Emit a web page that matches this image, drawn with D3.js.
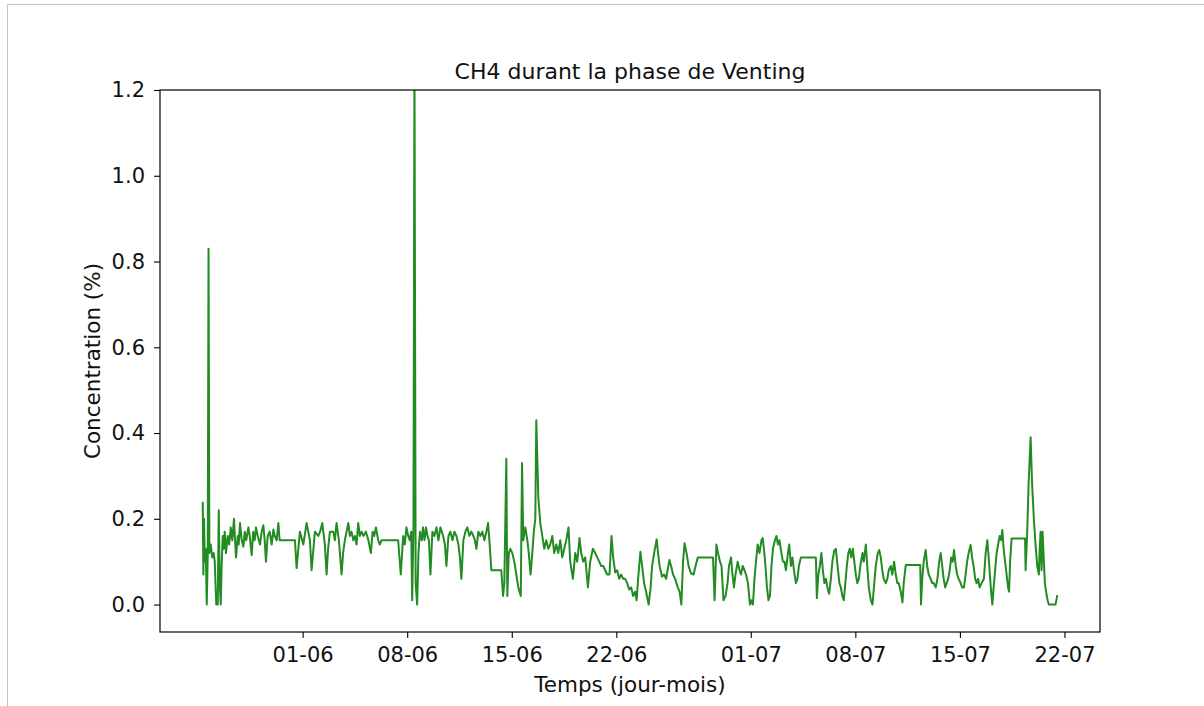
<!DOCTYPE html>
<html>
<head>
<meta charset="utf-8">
<script src="https://cdn.jsdelivr.net/npm/d3@7"></script>
<style>
  body { margin: 0; background: #fff; }
  text { font-family: "DejaVu Sans", sans-serif; fill: #111; }
</style>
</head>
<body>
<svg id="chart" width="1204" height="706"></svg>
<script>
// relevés CH4 (jour/mois heure) et concentration (%)
var times = [
  "25/05 07:30","25/05 08:30","25/05 09:40","25/05 10:45","25/05 12:20","25/05 14:00","25/05 15:35","25/05 16:50","25/05 18:10","25/05 20:25","25/05 22:50",
  "26/05 01:15","26/05 02:50","26/05 05:15","26/05 07:40","26/05 09:15","26/05 10:50","26/05 12:25","26/05 14:05","26/05 15:40","26/05 17:15","26/05 18:50","26/05 20:55","26/05 23:40",
  "27/05 02:05","27/05 04:30","27/05 06:55","27/05 09:45","27/05 11:25","27/05 13:00","27/05 15:45","27/05 17:20","27/05 19:25","27/05 22:10",
  "28/05 00:50","28/05 03:00","28/05 05:20","28/05 08:55","28/05 11:00","28/05 14:10","28/05 16:35","28/05 19:00","28/05 21:05","28/05 23:50",
  "29/05 03:30","29/05 06:15","29/05 08:55","29/05 11:00","29/05 13:05","29/05 15:50","29/05 19:05","29/05 22:15",
  "30/05 01:00","30/05 03:05","30/05 06:15","30/05 09:00","30/05 11:05",
  "31/05 11:40","31/05 14:20","31/05 19:40",
  "01/06 01:05","01/06 06:25","01/06 11:40","01/06 14:25","01/06 19:45",
  "02/06 01:10","02/06 04:05","02/06 07:35","02/06 11:45","02/06 14:30","02/06 16:55","02/06 19:50",
  "03/06 01:15","03/06 03:50","03/06 06:30","03/06 10:15","03/06 14:35","03/06 17:00","03/06 19:50",
  "04/06 01:20","04/06 03:55","04/06 06:35","04/06 09:20","04/06 11:55","04/06 14:40","04/06 17:20","04/06 19:55","04/06 22:40",
  "05/06 01:40","05/06 05:40","05/06 09:40","05/06 13:40","05/06 16:25","05/06 19:00","05/06 21:45",
  "06/06 01:25","06/06 04:00","06/06 06:45",
  "07/06 09:30","07/06 13:40","07/06 17:35","07/06 20:05","07/06 22:50",
  "08/06 01:35","08/06 04:10","08/06 06:30","08/06 08:00","08/06 10:05","08/06 11:40","08/06 13:35","08/06 16:00","08/06 18:05","08/06 20:30","08/06 23:30",
  "09/06 01:20","09/06 03:45","09/06 06:10","09/06 08:30","09/06 10:55","09/06 13:20","09/06 16:30","09/06 19:45","09/06 23:00",
  "10/06 02:10","10/06 05:25","10/06 09:45","10/06 12:35","10/06 15:00","10/06 18:15","10/06 21:25",
  "11/06 00:40","11/06 03:50","11/06 07:05","11/06 10:15","11/06 12:40","11/06 15:05","11/06 18:15","11/06 21:30",
  "12/06 00:40","12/06 03:55","12/06 07:05","12/06 10:20","12/06 12:45","12/06 15:10","12/06 18:20","12/06 21:35",
  "13/06 00:45","13/06 04:00","13/06 07:10","13/06 09:55","13/06 12:00","13/06 15:15",
  "14/06 07:15","14/06 10:00","14/06 12:05","14/06 15:15","14/06 16:50","14/06 19:15","14/06 21:40",
  "15/06 00:55","15/06 04:05","15/06 07:20","15/06 10:30","15/06 14:30","15/06 16:30","15/06 18:30","15/06 21:45",
  "16/06 01:00","16/06 03:20","16/06 06:15","16/06 09:00","16/06 11:25","16/06 13:50","16/06 15:25","16/06 18:40","16/06 21:50",
  "17/06 01:00","17/06 04:15","17/06 07:25","17/06 10:40","17/06 13:50","17/06 17:05","17/06 20:15","17/06 23:30",
  "18/06 02:40","18/06 05:55","18/06 09:05","18/06 12:20","18/06 15:30","18/06 19:10","18/06 21:55",
  "19/06 02:15","19/06 06:00","19/06 09:10","19/06 12:50","19/06 15:35","19/06 18:50","19/06 22:00",
  "20/06 02:20","20/06 06:00","20/06 10:20","20/06 14:05","20/06 17:15","20/06 20:30","20/06 23:40",
  "21/06 02:55","21/06 06:05","21/06 09:20","21/06 13:00","21/06 16:15","21/06 18:55","21/06 22:10",
  "22/06 01:20","22/06 04:35","22/06 07:45","22/06 11:00","22/06 14:10","22/06 17:25","22/06 20:35","22/06 23:50",
  "23/06 03:00","23/06 06:15","23/06 08:40","23/06 11:00","23/06 14:40","23/06 17:25","23/06 20:35","23/06 23:50",
  "24/06 03:55","24/06 07:05","24/06 09:30","24/06 12:45","24/06 16:45","24/06 19:05","24/06 21:30",
  "25/06 01:30","25/06 04:45","25/06 08:00","25/06 13:15","25/06 16:00","25/06 19:10","25/06 22:25",
  "26/06 02:45","26/06 05:35","26/06 08:30","26/06 11:10","26/06 13:35","26/06 16:50","26/06 20:05","26/06 23:55",
  "27/06 04:05","27/06 07:15","27/06 10:50",
  "28/06 11:20","28/06 13:50","28/06 16:45","28/06 19:25","28/06 22:35",
  "29/06 01:00","29/06 04:10","29/06 07:25","29/06 10:40","29/06 13:00","29/06 16:15","29/06 18:35","29/06 21:00","29/06 23:25",
  "30/06 03:00","30/06 05:55","30/06 08:20","30/06 11:00","30/06 13:55","30/06 16:20","30/06 19:30","30/06 22:40",
  "01/07 01:05","01/07 03:30","01/07 05:55","01/07 08:20","01/07 11:05","01/07 14:00","01/07 17:10","01/07 19:10","01/07 21:10","01/07 23:35",
  "02/07 02:00","02/07 04:25","02/07 06:50","02/07 09:15","02/07 11:35","02/07 14:50","02/07 17:15","02/07 19:35","02/07 22:00",
  "03/07 01:15","03/07 03:40","03/07 06:05","03/07 08:30","03/07 11:40","03/07 13:45","03/07 16:30","03/07 18:55","03/07 21:20",
  "04/07 00:30","04/07 02:55","04/07 05:20","04/07 08:30",
  "05/07 08:35","05/07 10:10","05/07 12:35","05/07 15:00","05/07 17:25","05/07 19:50","05/07 22:15",
  "06/07 00:40","06/07 03:00","06/07 05:55","06/07 08:40","06/07 11:05","06/07 14:00","06/07 16:40","06/07 19:25","06/07 22:20",
  "07/07 00:40","07/07 03:05","07/07 05:30","07/07 07:55","07/07 10:20","07/07 12:40","07/07 15:05","07/07 17:30","07/07 19:55","07/07 22:20",
  "08/07 00:45","08/07 03:10","08/07 05:35","08/07 08:00","08/07 11:30","08/07 13:35","08/07 16:50","08/07 19:10","08/07 21:35",
  "09/07 00:50","09/07 03:30","09/07 06:25","09/07 08:50","09/07 12:00","09/07 14:25","09/07 16:50","09/07 19:15","09/07 21:35",
  "10/07 00:55","10/07 03:20","10/07 05:40","10/07 08:55","10/07 11:20","10/07 14:15","10/07 16:55","10/07 19:20","10/07 21:40",
  "11/07 01:00","11/07 03:40","11/07 05:45","11/07 09:00",
  "12/07 08:15","12/07 09:30","12/07 11:25","12/07 13:50","12/07 17:00","12/07 19:25","12/07 21:50",
  "13/07 01:05","13/07 03:30","13/07 05:55","13/07 09:10","13/07 11:50","13/07 14:40","13/07 17:05","13/07 19:30","13/07 21:55",
  "14/07 00:20","14/07 02:45","14/07 05:10","14/07 07:35","14/07 10:00","14/07 12:25","14/07 14:30","14/07 17:15","14/07 19:35","14/07 22:00",
  "15/07 01:10","15/07 03:35","15/07 06:30","15/07 09:10","15/07 11:35","15/07 14:00","15/07 17:10","15/07 19:35","15/07 22:00",
  "16/07 00:30","16/07 02:55","16/07 05:20","16/07 07:40","16/07 10:55","16/07 14:35","16/07 17:20","16/07 20:05","16/07 22:10",
  "17/07 00:35","17/07 02:10","17/07 04:05","17/07 06:10","17/07 08:35","17/07 11:00","17/07 13:25","17/07 15:50","17/07 18:15","17/07 20:10","17/07 22:15",
  "18/07 00:35","18/07 03:00","18/07 05:25","18/07 07:00","18/07 08:40","18/07 11:00",
  "19/07 08:40","19/07 09:30","19/07 11:55","19/07 14:20","19/07 17:35","19/07 20:00","19/07 22:55",
  "20/07 01:30","20/07 04:15","20/07 06:50","20/07 07:55","20/07 09:35","20/07 11:10","20/07 12:45","20/07 14:55","20/07 16:30","20/07 18:25","20/07 20:50","20/07 22:55",
  "21/07 09:40","21/07 12:25"
];

var ch4 = [
  0.24,0.07,0.20,0.10,0.13,0.00,0.12,0.83,0.12,0.14,0.11,
  0.12,0.10,0.00,0.00,0.22,0.05,0.00,0.10,0.16,0.13,0.17,0.12,0.16,
  0.14,0.18,0.15,0.20,0.15,0.11,0.16,0.14,0.19,0.15,
  0.135,0.17,0.15,0.18,0.16,0.115,0.17,0.15,0.18,0.16,
  0.14,0.17,0.185,0.15,0.10,0.16,0.17,0.14,
  0.175,0.16,0.15,0.19,0.15,
  0.15,0.085,0.17,
  0.14,0.19,0.15,0.08,0.17,
  0.16,0.17,0.19,0.14,0.07,0.13,0.17,
  0.17,0.15,0.19,0.15,0.07,0.12,0.15,
  0.19,0.16,0.17,0.15,0.16,0.14,0.19,0.16,0.17,
  0.16,0.17,0.15,0.12,0.17,0.16,0.18,
  0.15,0.14,0.15,
  0.15,0.07,0.16,0.14,0.18,
  0.16,0.15,0.17,0.01,0.18,1.28,0.05,0.00,0.12,0.17,0.15,
  0.18,0.15,0.18,0.16,0.15,0.07,0.17,0.16,0.18,
  0.15,0.18,0.16,0.14,0.09,0.16,0.17,
  0.15,0.17,0.16,0.14,0.11,0.06,0.15,0.17,
  0.18,0.16,0.17,0.16,0.15,0.13,0.17,0.16,
  0.17,0.15,0.17,0.19,0.15,0.08,
  0.08,0.02,0.05,0.34,0.02,0.12,0.13,
  0.12,0.10,0.07,0.04,0.02,0.33,0.15,0.18,
  0.15,0.12,0.07,0.12,0.17,0.20,0.43,0.25,0.19,
  0.16,0.13,0.15,0.13,0.14,0.16,0.12,0.14,
  0.12,0.15,0.11,0.13,0.15,0.18,0.10,
  0.06,0.12,0.10,0.155,0.12,0.10,0.11,
  0.04,0.10,0.13,0.12,0.11,0.10,0.09,
  0.09,0.08,0.07,0.07,0.16,0.11,0.075,
  0.08,0.06,0.07,0.06,0.06,0.05,0.035,0.04,
  0.02,0.03,0.01,0.06,0.123,0.09,0.05,0.03,
  0.00,0.04,0.09,0.12,0.152,0.12,0.09,
  0.065,0.07,0.06,0.104,0.09,0.07,0.06,
  0.04,0.03,0.00,0.10,0.143,0.12,0.09,0.073,
  0.07,0.09,0.11,
  0.11,0.01,0.14,0.12,0.10,
  0.09,0.01,0.02,0.05,0.09,0.11,0.07,0.04,0.07,
  0.10,0.08,0.07,0.09,0.08,0.07,0.05,0.00,
  0.01,0.00,0.06,0.10,0.14,0.12,0.15,0.155,0.13,0.09,
  0.04,0.01,0.02,0.09,0.13,0.15,0.16,0.14,0.15,
  0.12,0.10,0.10,0.08,0.12,0.14,0.09,0.11,0.08,
  0.05,0.06,0.09,0.11,
  0.11,0.015,0.07,0.09,0.12,0.08,0.05,
  0.06,0.04,0.025,0.06,0.10,0.125,0.13,0.09,0.05,
  0.04,0.02,0.01,0.05,0.09,0.12,0.13,0.11,0.13,0.10,
  0.07,0.05,0.06,0.09,0.12,0.10,0.14,0.09,0.04,
  0.01,0.00,0.05,0.09,0.12,0.127,0.11,0.08,0.06,
  0.05,0.06,0.08,0.09,0.07,0.10,0.07,0.05,0.05,
  0.03,0.005,0.05,0.092,
  0.092,0.00,0.06,0.10,0.127,0.09,0.07,
  0.06,0.05,0.05,0.04,0.06,0.10,0.12,0.09,0.06,
  0.04,0.05,0.06,0.08,0.11,0.10,0.127,0.09,0.07,0.06,
  0.05,0.04,0.04,0.07,0.10,0.12,0.139,0.11,0.09,
  0.06,0.05,0.06,0.04,0.05,0.06,0.12,0.15,0.11,
  0.06,0.03,0.00,0.04,0.08,0.12,0.14,0.16,0.15,0.174,0.13,
  0.10,0.07,0.04,0.03,0.10,0.154,
  0.154,0.08,0.16,0.28,0.39,0.28,0.197,
  0.14,0.09,0.07,0.12,0.17,0.08,0.17,0.10,0.05,0.03,0.01,0.00,
  0.00,0.022
];

var yTicks = [0.0, 0.2, 0.4, 0.6, 0.8, 1.0, 1.2];
var xTicks = ["01/06", "08/06", "15/06", "22/06", "01/07", "08/07", "15/07", "22/07"];
var yMax = 1.2;

var parseTime = d3.timeParse("%d/%m %H:%M");
var parseDay = d3.timeParse("%d/%m");

var data = d3.zip(times, ch4).map(function(d) {
    return { t: parseTime(d[0]), v: d[1] };
});

var svg = d3.select("#chart");
var plotL = 160, plotR = 1100, plotT = 90, plotB = 632;

// cadre de la sortie
svg.append("path")
    .attr("d", "M7.5,706V4.5H1204")
    .attr("fill", "none")
    .attr("stroke", "#c4c4c4")
    .attr("stroke-width", 1);

// marges 5% comme matplotlib
var tExt = d3.extent(data, function(d) { return d.t; });
var span = tExt[1] - tExt[0];
var x = d3.scaleTime()
    .domain([new Date(+tExt[0] - span * 0.05), new Date(+tExt[1] + span * 0.05)])
    .range([plotL, plotR]);

var vMax = d3.max(data, function(d) { return d.v; });
var y = d3.scaleLinear()
    .domain([-0.05 * vMax, yMax])
    .range([plotB, plotT]);

svg.append("clipPath").attr("id", "clip")
    .append("rect")
    .attr("x", plotL).attr("y", plotT)
    .attr("width", plotR - plotL).attr("height", plotB - plotT);

var line = d3.line()
    .x(function(d) { return x(d.t); })
    .y(function(d) { return y(d.v); });

svg.append("path")
    .datum(data)
    .attr("clip-path", "url(#clip)")
    .attr("fill", "none")
    .attr("stroke", "#228b22")
    .attr("stroke-width", 2)
    .attr("stroke-linejoin", "round")
    .attr("d", line);

var xAxis = svg.append("g")
    .attr("transform", "translate(0," + plotB + ")")
    .call(d3.axisBottom(x)
        .tickValues(xTicks.map(parseDay))
        .tickFormat(d3.timeFormat("%d-%m"))
        .tickSize(6)
        .tickPadding(9));

var yAxis = svg.append("g")
    .attr("transform", "translate(" + plotL + ",0)")
    .call(d3.axisLeft(y)
        .tickValues(yTicks)
        .tickFormat(d3.format(".1f"))
        .tickSize(6)
        .tickPadding(9));

[xAxis, yAxis].forEach(function(g) {
    g.select(".domain").remove();
    g.selectAll(".tick line").attr("stroke", "#000").attr("stroke-width", 1.1);
    g.selectAll(".tick text").attr("fill", "#111").style("font-size", "21px")
        .style("font-family", "'DejaVu Sans', sans-serif");
});

svg.append("rect")
    .attr("x", plotL).attr("y", plotT)
    .attr("width", plotR - plotL).attr("height", plotB - plotT)
    .attr("fill", "none")
    .attr("stroke", "#000")
    .attr("stroke-width", 1.2);

svg.append("text")
    .attr("x", (plotL + plotR) / 2)
    .attr("y", 79)
    .attr("text-anchor", "middle")
    .style("font-size", "22px")
    .text("CH4 durant la phase de Venting");

svg.append("text")
    .attr("x", (plotL + plotR) / 2)
    .attr("y", 692)
    .attr("text-anchor", "middle")
    .style("font-size", "21.5px")
    .text("Temps (jour-mois)");

svg.append("text")
    .attr("transform", "translate(100," + (plotT + plotB) / 2 + ") rotate(-90)")
    .attr("text-anchor", "middle")
    .style("font-size", "21.5px")
    .text("Concentration (%)");
</script>
</body>
</html>
